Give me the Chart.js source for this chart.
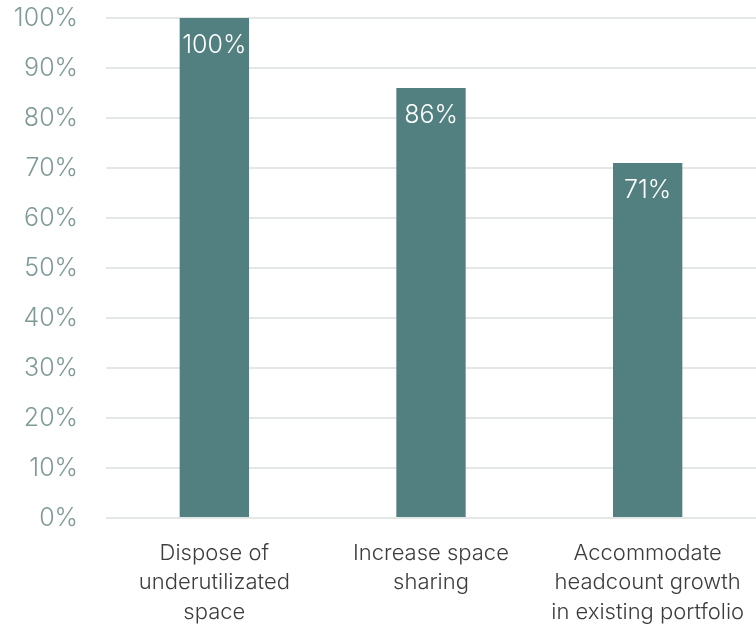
<!DOCTYPE html>
<html>
<head>
<meta charset="utf-8">
<script src="https://cdn.jsdelivr.net/npm/chart.js@4.4.1/dist/chart.umd.min.js"></script>
<style>
  html, body { margin: 0; padding: 0; background: #ffffff; }
  #wrap { width: 756px; height: 629px; }
</style>
</head>
<body>
<div id="wrap"><canvas id="chart"></canvas></div>
<script>
// Categorias y valores
const categories = [
    ['Dispose of', 'underutilizated', 'space'],
    ['Increase space', 'sharing'],
    ['Accommodate', 'headcount growth', 'in existing portfolio']
];
const shares = [100, 86, 71];
const yTicks = [0, 10, 20, 30, 40, 50, 60, 70, 80, 90, 100];

const barColor = '#527f7f';
const fontFamily = 'Inter, "Noto Sans", sans-serif';

// Etiquetas de valor dentro de cada barra
const valueLabels = {
    id: 'valueLabels',
    afterDatasetsDraw(chart) {
        const ctx = chart.ctx;
        const meta = chart.getDatasetMeta(0);
        ctx.save();
        ctx.fillStyle = '#ffffff';
        ctx.font = '300 25px ' + fontFamily;
        ctx.textAlign = 'center';
        ctx.textBaseline = 'middle';
        meta.data.forEach((bar, i) => {
            ctx.fillText(shares[i] + '%', bar.x, bar.y + 27);
        });
        ctx.restore();
    }
};

new Chart(document.getElementById('chart'), {
    type: 'bar',
    data: {
        labels: categories,
        datasets: [{
            data: shares,
            backgroundColor: barColor,
            barPercentage: 0.32,
            categoryPercentage: 1
        }]
    },
    options: {
        responsive: true,
        maintainAspectRatio: false,
        animation: false,
        layout: { padding: { top: 18, right: 0, left: 0, bottom: 0 } },
        plugins: {
            legend: { display: false },
            tooltip: { enabled: false }
        },
        scales: {
            x: {
                grid: { display: false },
                border: { display: false },
                ticks: {
                    color: '#3d3d3d',
                    font: { family: fontFamily, size: 22, weight: 300, lineHeight: 1.36 },
                    padding: 12,
                    maxRotation: 0,
                    autoSkip: false
                },
                afterFit(scale) {
                    scale.height = 111;
                    scale.paddingLeft = 0;
                    scale.paddingRight = 0;
                }
            },
            y: {
                min: 0,
                max: 100,
                afterBuildTicks(scale) {
                    scale.ticks = yTicks.map(v => ({ value: v }));
                },
                grid: {
                    color: '#e3e8e7',
                    lineWidth: 2,
                    drawTicks: false
                },
                border: { display: false },
                ticks: {
                    color: '#7f9a97',
                    font: { family: fontFamily, size: 25, weight: 300 },
                    padding: 28,
                    callback: v => v + '%'
                },
                afterFit(scale) {
                    scale.width = 106;
                    scale.paddingTop = 0;
                    scale.paddingBottom = 0;
                }
            }
        }
    },
    plugins: [valueLabels]
});
</script>
</body>
</html>
